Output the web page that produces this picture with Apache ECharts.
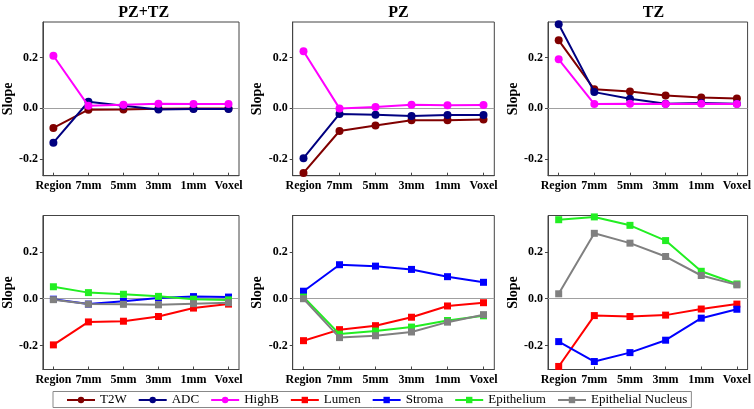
<!DOCTYPE html>
<html>
<head>
<meta charset="utf-8">
<script src="https://cdn.jsdelivr.net/npm/echarts@6/dist/echarts.min.js"></script>
<style>html,body{margin:0;padding:0;background:#fff;}#c{width:754px;height:409px;}</style>
</head>
<body>
<div id="c"></div>
<script>
const categories = ['Region','7mm','5mm','3mm','1mm','Voxel'];
const yTicks = [-0.2, 0, 0.2];
const panelTitles = ['PZ+TZ','PZ','TZ'];
const topNames = ['T2W','ADC','HighB'];
const bottomNames = ['Lumen','Stroma','Epithelium','Epithelial Nucleus'];

// Top row (PZ+TZ, PZ, TZ)
const t2w_all   = [-0.077,-0.005,-0.004,-0.001,0.000,0.000];
const adc_all   = [-0.135,0.026,0.010,-0.004,-0.002,-0.002];
const highb_all = [0.207,0.010,0.014,0.018,0.017,0.017];
const t2w_pz    = [-0.254,-0.089,-0.067,-0.047,-0.047,-0.044];
const adc_pz    = [-0.196,-0.022,-0.025,-0.030,-0.026,-0.026];
const highb_pz  = [0.225,0.000,0.005,0.014,0.012,0.013];
const t2w_tz    = [0.268,0.075,0.066,0.051,0.043,0.039];
const adc_tz    = [0.331,0.064,0.038,0.018,0.021,0.018];
const highb_tz  = [0.193,0.017,0.018,0.017,0.018,0.017];

// Bottom row (PZ+TZ, PZ, TZ)
const lumen_all  = [-0.197,-0.099,-0.096,-0.076,-0.040,-0.023];
const stroma_all = [-0.002,-0.023,-0.011,0.003,0.009,0.007];
const epi_all    = [0.051,0.026,0.019,0.010,-0.002,-0.005];
const nuc_all    = [-0.004,-0.023,-0.024,-0.026,-0.021,-0.017];
const lumen_pz   = [-0.179,-0.132,-0.115,-0.079,-0.031,-0.017];
const stroma_pz  = [0.032,0.145,0.139,0.125,0.094,0.070];
const epi_pz     = [0.007,-0.151,-0.138,-0.121,-0.093,-0.073];
const nuc_pz     = [0.000,-0.166,-0.158,-0.142,-0.100,-0.068];
const lumen_tz   = [-0.289,-0.072,-0.076,-0.070,-0.044,-0.023];
const stroma_tz  = [-0.183,-0.268,-0.230,-0.177,-0.083,-0.045];
const epi_tz     = [0.337,0.349,0.313,0.248,0.117,0.063];
const nuc_tz     = [0.021,0.279,0.237,0.180,0.099,0.059];

const topData = [[t2w_all,adc_all,highb_all],[t2w_pz,adc_pz,highb_pz],[t2w_tz,adc_tz,highb_tz]];
const bottomData = [[lumen_all,stroma_all,epi_all,nuc_all],[lumen_pz,stroma_pz,epi_pz,nuc_pz],[lumen_tz,stroma_tz,epi_tz,nuc_tz]];

const topColors = ['#800000','#000080','#ff00ff'];
const bottomColors = ['#ff0000','#0000ff','#22ee22','#808080'];

const FONT = "'Liberation Serif','Times New Roman',serif";
const gridLefts = [38.3, 292.7, 548.0];
const gridWidths = [200.7, 201.6, 200.8];
const rows = [
  {top: 22, height: 153.7, min: -0.265, max: 0.34, labelMargin: 4},
  {top: 215.5, height: 154, min: -0.302, max: 0.355, labelMargin: 4}
];
const nameGaps = [25, 27, 28];

const grids = [], xAxes = [], yAxes = [], series = [], titles = [];
let gi = 0;
rows.forEach((row, r) => {
  for (let p = 0; p < 3; p++) {
    grids.push({left: gridLefts[p], top: row.top, width: gridWidths[p], height: row.height,
      show: true, borderColor: '#444', borderWidth: 1, backgroundColor: 'transparent'});
    xAxes.push({type: 'value', gridIndex: gi, min: -0.3, max: 5.3,
      axisLine: {show: true, onZero: false, lineStyle: {color: '#444', width: 1}},
      axisTick: {show: true, inside: true, length: 3, customValues: [0,1,2,3,4,5], lineStyle: {color: '#444'}},
      axisLabel: {customValues: [0,1,2,3,4,5], formatter: v => categories[Math.round(v)],
        fontFamily: FONT, fontWeight: 'bold', fontSize: 12, color: '#000', margin: row.labelMargin},
      splitLine: {show: false}});
    yAxes.push({type: 'value', gridIndex: gi, min: row.min, max: row.max,
      name: 'Slope', nameLocation: 'middle', nameGap: nameGaps[p],
      nameTextStyle: {fontFamily: FONT, fontWeight: 'bold', fontSize: 14, color: '#000'},
      axisLine: {show: true, onZero: false, lineStyle: {color: '#444', width: 1}},
      axisTick: {show: true, inside: false, length: 3, customValues: yTicks, lineStyle: {color: '#444'}},
      axisLabel: {customValues: yTicks, formatter: v => v.toFixed(1),
        fontFamily: FONT, fontWeight: 'bold', fontSize: 12, color: '#000', margin: 5},
      splitLine: {show: false}});
    const names = r === 0 ? topNames : bottomNames;
    const data = r === 0 ? topData[p] : bottomData[p];
    const colors = r === 0 ? topColors : bottomColors;
    names.forEach((nm, k) => {
      const s = {
        type: 'line', name: nm, xAxisIndex: gi, yAxisIndex: gi,
        data: data[k].map((v, i) => [i, v]),
        symbol: r === 0 ? 'circle' : 'rect', symbolSize: r === 0 ? 8 : 7,
        showSymbol: true,
        lineStyle: {color: colors[k], width: 2},
        itemStyle: {color: colors[k]},
        emphasis: {disabled: true},
        z: 3 + k
      };
      if (k === 0) {
        s.markLine = {silent: true, symbol: 'none', label: {show: false}, animation: false,
          lineStyle: {color: '#a0a0a0', width: 1, type: 'solid'}, data: [{yAxis: 0}], z: 1};
      }
      series.push(s);
    });
    if (r === 0) {
      titles.push({text: panelTitles[p], left: gridLefts[p] + gridWidths[p] / 2, top: 0, textAlign: 'center',
        textStyle: {fontFamily: FONT, fontWeight: 'bold', fontSize: 16, color: '#000'}});
    }
    gi++;
  }
});

const chart = echarts.init(document.getElementById('c'), null, {renderer: 'canvas'});
chart.setOption({
  animation: false,
  title: titles,
  grid: grids,
  xAxis: xAxes,
  yAxis: yAxes,
  legend: {
    data: topNames.concat(bottomNames),
    left: 53, top: 391.5,
    orient: 'horizontal',
    itemWidth: 28, itemHeight: 8, itemGap: 11,
    padding: [2, 4, 1, 13],
    borderColor: '#888', borderWidth: 1,
    selectedMode: false,
    textStyle: {fontFamily: FONT, fontSize: 13, color: '#000'}
  },
  series: series
});
</script>
</body>
</html>
